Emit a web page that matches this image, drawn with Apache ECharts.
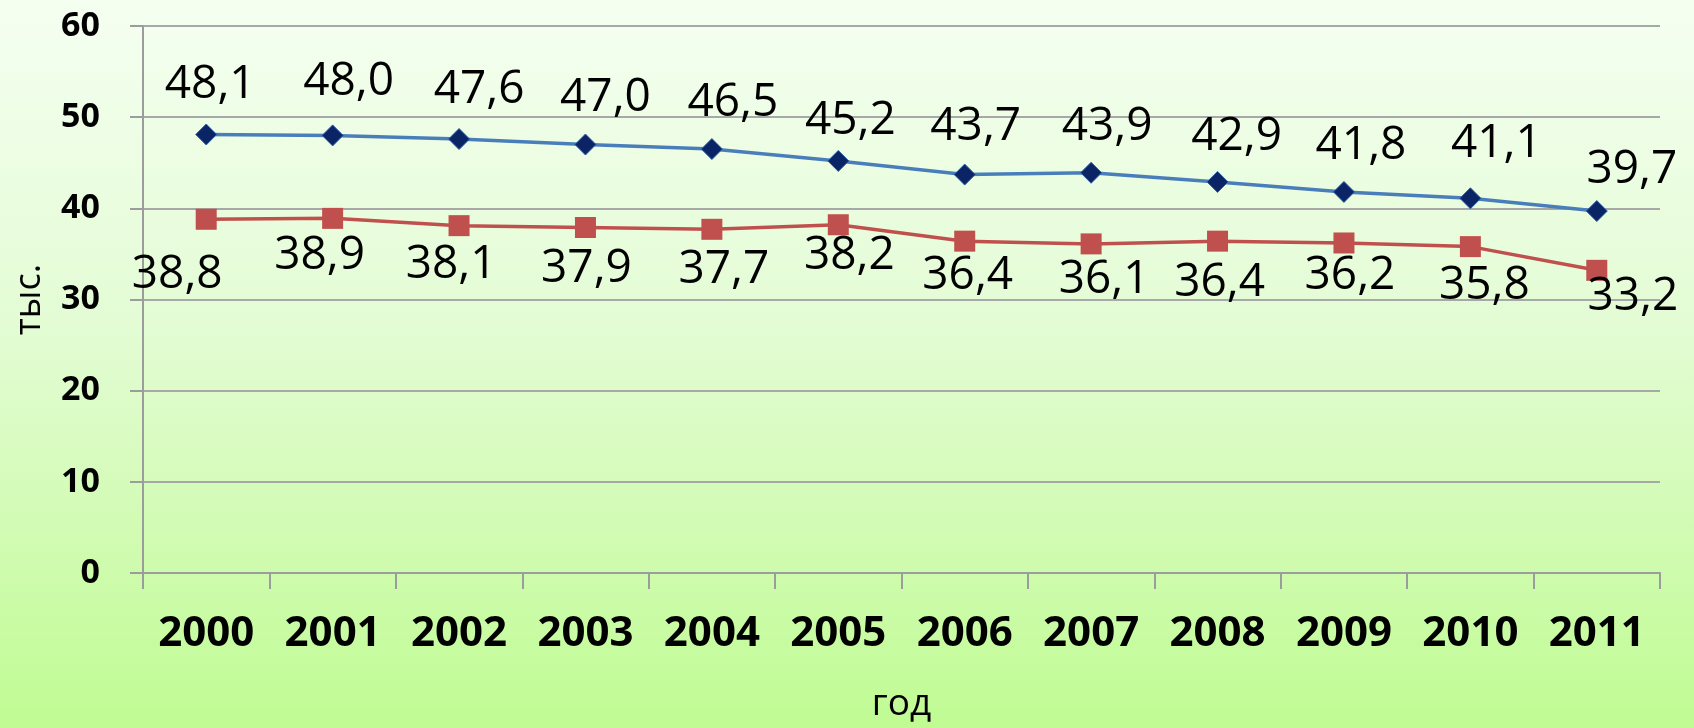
<!DOCTYPE html>
<html>
<head>
<meta charset="utf-8">
<script src="https://cdn.jsdelivr.net/npm/echarts@6/dist/echarts.min.js"></script>
<style>
  html, body { margin: 0; padding: 0; }
  #chart { width: 1694px; height: 728px; }
</style>
</head>
<body>
<div id="chart"></div>
<script>
const years = ["2000", "2001", "2002", "2003", "2004", "2005", "2006", "2007", "2008", "2009", "2010", "2011"];
const seriesTop = [48.1, 48.0, 47.6, 47.0, 46.5, 45.2, 43.7, 43.9, 42.9, 41.8, 41.1, 39.7];
const seriesBottom = [38.8, 38.9, 38.1, 37.9, 37.7, 38.2, 36.4, 36.1, 36.4, 36.2, 35.8, 33.2];
const yTicks = [0, 10, 20, 30, 40, 50, 60];

// сдвиги подписей как в исходной картинке
const shiftTopX = [4, 16, 20, 20, 21, 12, 11, 16, 19, 17, 26, 35];
const shiftTopY = [-50, -54, -49, -47, -46, -40, -48, -46, -45, -46, -54, -41];
const shiftBottomX = [-29, -13, -8, 1, 12, 11, 3, 13, 2, 6, 14, 36];
const shiftBottomY = [56, 38, 39, 41, 41, 31, 35, 36, 42, 33, 39, 27];

const fmt = (v) => v.toFixed(1).replace(".", ",");

const withLabels = (values, sx, sy) =>
  values.map((v, i) => ({
    value: v,
    label: { offset: [sx[i], sy[i]] },
  }));

const myChart = echarts.init(document.getElementById("chart"));

const labelStyle = {
  show: true,
  position: "inside",
  fontFamily: "Open Sans",
  fontSize: 46,
  color: "#000",
  formatter: (p) => fmt(p.value),
};

myChart.setOption({
  animation: false,
  backgroundColor: new echarts.graphic.LinearGradient(0, 0, 0, 1, [
    { offset: 0, color: "#f5fff1" },
    { offset: 0.45, color: "#e3fcd4" },
    { offset: 1, color: "#c0fb93" },
  ]),
  grid: { left: 143, right: 34, top: 26, bottom: 152 },
  xAxis: {
    type: "category",
    data: years,
    boundaryGap: true,
    name: "год",
    nameLocation: "middle",
    nameGap: 113,
    nameTextStyle: { fontFamily: "Open Sans", fontSize: 37, color: "#000" },
    axisLine: { lineStyle: { color: "#9c9c9c", width: 2 } },
    axisTick: { show: true, length: 16, lineStyle: { color: "#9c9c9c", width: 2 } },
    axisLabel: {
      margin: 40,
      fontFamily: "Open Sans",
      fontWeight: "bold",
      fontSize: 42,
      color: "#000",
    },
  },
  yAxis: {
    type: "value",
    min: yTicks[0],
    max: yTicks[yTicks.length - 1],
    interval: 10,
    name: "тыс.",
    nameLocation: "middle",
    nameRotate: 90,
    nameGap: 95,
    nameTextStyle: { fontFamily: "Open Sans", fontSize: 36, color: "#000" },
    axisLine: { show: true, lineStyle: { color: "#9c9c9c", width: 2 } },
    axisTick: { show: true, length: 13, lineStyle: { color: "#9c9c9c", width: 2 } },
    splitLine: { show: true, lineStyle: { color: "#a8a8a8", width: 2 } },
    axisLabel: {
      margin: 43,
      fontFamily: "Open Sans",
      fontWeight: "bold",
      fontSize: 34,
      color: "#000",
    },
  },
  series: [
    {
      type: "line",
      data: withLabels(seriesTop, shiftTopX, shiftTopY),
      symbol: "diamond",
      symbolSize: 21,
      lineStyle: { color: "#4a7ebb", width: 3.5 },
      itemStyle: { color: "#0b2466", borderColor: "#2f5fa8", borderWidth: 1 },
      label: labelStyle,
      z: 3,
    },
    {
      type: "line",
      data: withLabels(seriesBottom, shiftBottomX, shiftBottomY),
      symbol: "rect",
      symbolSize: 21,
      lineStyle: { color: "#c0504d", width: 3.5 },
      itemStyle: { color: "#c0504d" },
      label: labelStyle,
      z: 2,
    },
  ],
});
</script>
</body>
</html>
